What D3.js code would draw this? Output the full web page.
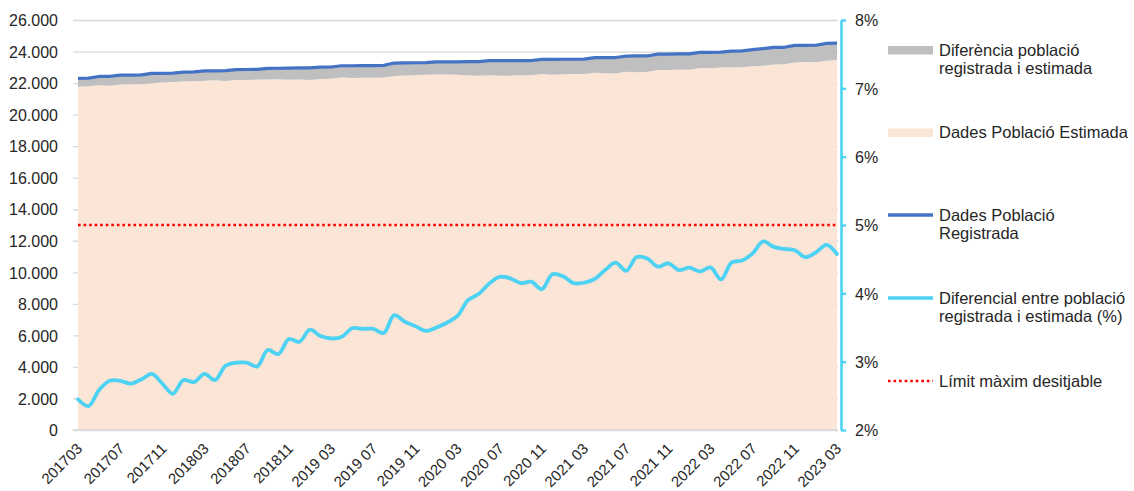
<!DOCTYPE html>
<html>
    <head>
        <meta charset="utf-8">
        <script src="https://d3js.org/d3.v7.min.js"></script>
        <style>
            body { margin: 0; background: #fff; }
            text { font-family: "Liberation Sans", Arial, sans-serif; fill: #262626; }
        </style>
    </head>
    <body>
        <div id="my_dataviz"></div>
        <script>
            // months (categories)
            const months = [
                "201703","201704","201705","201706","201707","201708","201709","201710","201711","201712",
                "201801","201802","201803","201804","201805","201806","201807","201808","201809","201810","201811","201812",
                "2019 01","2019 02","2019 03","2019 04","2019 05","2019 06","2019 07","2019 08","2019 09","2019 10","2019 11","2019 12",
                "2020 01","2020 02","2020 03","2020 04","2020 05","2020 06","2020 07","2020 08","2020 09","2020 10","2020 11","2020 12",
                "2021 01","2021 02","2021 03","2021 04","2021 05","2021 06","2021 07","2021 08","2021 09","2021 10","2021 11","2021 12",
                "2022 01","2022 02","2022 03","2022 04","2022 05","2022 06","2022 07","2022 08","2022 09","2022 10","2022 11","2022 12",
                "2023 01","2023 02","2023 03"
            ];
            // labels shown on the x axis
            const tickLabels = ["201703","201707","201711","201803","201807","201811","2019 03","2019 07","2019 11",
                "2020 03","2020 07","2020 11","2021 03","2021 07","2021 11","2022 03","2022 07","2022 11","2023 03"];

            // Dades Població Registrada
            const registrada = [
                22300,22310,22420,22430,22500,22510,22520,22610,22620,22630,22700,22710,22770,22780,22790,22850,22860,22870,
                22930,22940,22950,22960,22970,23010,23020,23100,23100,23110,23110,23120,23270,23280,23290,23300,23340,23350,
                23350,23360,23360,23420,23420,23420,23430,23430,23500,23500,23510,23510,23520,23610,23610,23620,23710,23720,
                23720,23840,23840,23850,23850,23950,23950,23960,24030,24040,24120,24190,24260,24270,24390,24390,24400,24520,24530
            ];
            // Dades Població Estimada
            const estimada = [
                21767,21798,21855,21836,21904,21922,21920,21990,22030,22072,22097,22113,22146,22175,22139,22188,22197,22219,
                22225,22248,22210,22229,22200,22259,22276,22349,22321,22333,22333,22355,22444,22474,22498,22523,22551,22545,
                22523,22483,22464,22489,22467,22472,22496,22492,22583,22535,22552,22573,22582,22656,22628,22614,22726,22692,
                22696,22837,22826,22858,22850,22958,22945,22993,23006,23009,23063,23091,23175,23192,23311,23333,23327,23417,23457
            ];
            // Diferencial entre població registrada i estimada (%)
            const diferencial = [
                2.45,2.35,2.585,2.72,2.72,2.68,2.74,2.82,2.68,2.53,2.73,2.70,2.82,2.73,2.94,2.985,2.985,2.93,
                3.17,3.11,3.33,3.29,3.47,3.375,3.34,3.36,3.49,3.48,3.48,3.42,3.68,3.585,3.52,3.45,3.50,3.57,
                3.67,3.90,3.99,4.14,4.24,4.22,4.15,4.17,4.06,4.28,4.25,4.15,4.155,4.21,4.34,4.45,4.33,4.53,
                4.51,4.39,4.44,4.34,4.375,4.32,4.38,4.205,4.45,4.48,4.585,4.76,4.68,4.65,4.63,4.53,4.60,4.71,4.575
            ];
            // Límit màxim desitjable (%)
            const limit = 5;

            const leftTicks = [0,2000,4000,6000,8000,10000,12000,14000,16000,18000,20000,22000,24000,26000];
            const rightTicks = [2,3,4,5,6,7,8];

            const colors = {
                estimada: "#FBE5D6",
                diferencia: "#BFBFBF",
                registrada: "#4472C4",
                diferencial: "#4DD2F4",
                limit: "#FF0000",
                grid: "#D9D9D9"
            };

            const width = 1134, height = 491;
            const plotLeft = 73, plotRight = 838, plotTop = 20, plotBottom = 430;

            const svg = d3.select("#my_dataviz")
                .append("svg")
                    .attr("width", width)
                    .attr("height", height);

            const data = months.map((m, i) => ({
                month: m, reg: registrada[i], est: estimada[i], pct: diferencial[i]
            }));

            const x = d3.scalePoint()
                .domain(months)
                .range([78, 837]);
            const yL = d3.scaleLinear().domain([0, 26000]).range([plotBottom, plotTop]);
            const yR = d3.scaleLinear().domain([2, 8]).range([plotBottom, plotTop]);

            const fmt = d3.formatLocale({decimal: ",", thousands: ".", grouping: [3], currency: ["", "€"]}).format(",.0f");

            // gridlines
            svg.append("g")
                .attr("transform", `translate(${plotLeft},0)`)
                .call(d3.axisLeft(yL).tickValues(leftTicks).tickSize(-(plotRight - plotLeft)).tickFormat(""))
                .call(g => g.select(".domain").remove())
                .call(g => g.selectAll("line").attr("stroke", colors.grid).attr("stroke-width", 1.3));

            // stacked areas
            svg.append("path")
                .datum(data)
                .attr("fill", colors.estimada)
                .attr("d", d3.area().x(d => x(d.month)).y0(yL(0)).y1(d => yL(d.est)));
            svg.append("path")
                .datum(data)
                .attr("fill", colors.diferencia)
                .attr("d", d3.area().x(d => x(d.month)).y0(d => yL(d.est)).y1(d => yL(d.reg)));

            // x baseline
            svg.append("line")
                .attr("x1", plotLeft).attr("x2", plotRight)
                .attr("y1", yL(0)).attr("y2", yL(0))
                .attr("stroke", colors.grid).attr("stroke-width", 1.5);

            // registered line
            svg.append("path")
                .datum(data)
                .attr("fill", "none")
                .attr("stroke", colors.registrada)
                .attr("stroke-width", 3.2)
                .attr("stroke-linejoin", "round")
                .attr("d", d3.line().x(d => x(d.month)).y(d => yL(d.reg)));

            // limit line (secondary axis)
            svg.append("line")
                .attr("x1", x(months[0])).attr("x2", x(months[months.length - 1]))
                .attr("y1", yR(limit)).attr("y2", yR(limit))
                .attr("stroke", colors.limit)
                .attr("stroke-width", 2.6)
                .attr("stroke-dasharray", "2.6,2.95");

            // percentage line (secondary axis)
            svg.append("path")
                .datum(data)
                .attr("fill", "none")
                .attr("stroke", colors.diferencial)
                .attr("stroke-width", 3.8)
                .attr("stroke-linejoin", "round")
                .attr("stroke-linecap", "round")
                .attr("d", d3.line().curve(d3.curveCatmullRom.alpha(0.5)).x(d => x(d.month)).y(d => yR(d.pct)));

            // left axis
            svg.append("g")
                .attr("transform", `translate(${plotLeft},0)`)
                .call(d3.axisLeft(yL).tickValues(leftTicks).tickSize(0).tickPadding(15).tickFormat(fmt))
                .call(g => g.select(".domain").remove())
                .call(g => g.selectAll("text").style("font-size", "16px").attr("dy", "0.36em"));

            // right axis
            svg.append("g")
                .attr("transform", "translate(841,0)")
                .call(d3.axisRight(yR).tickValues(rightTicks).tickSize(5).tickSizeOuter(0).tickPadding(9).tickFormat(d => d + "%"))
                .call(g => g.select(".domain").attr("stroke", colors.diferencial).attr("stroke-width", 2.6))
                .call(g => g.selectAll("line").attr("stroke", colors.diferencial).attr("stroke-width", 2.4))
                .call(g => g.selectAll("text").style("font-size", "16px").attr("dy", "0.36em"));

            // x axis labels
            svg.append("g")
                .attr("transform", `translate(0,${plotBottom})`)
                .call(d3.axisBottom(x).tickValues(tickLabels).tickSize(0))
                .call(g => g.select(".domain").remove())
                .call(g => g.selectAll("text")
                    .style("font-size", "15px")
                    .attr("text-anchor", "end")
                    .attr("x", 0).attr("y", 0).attr("dy", "0.35em")
                    .attr("transform", "translate(1,16) rotate(-45)"));

            // legend
            const legend = [
                {type: "rect", color: colors.diferencia, y: 50, lines: ["Diferència població", "registrada i estimada"]},
                {type: "rect", color: colors.estimada, y: 132.5, lines: ["Dades Població Estimada"]},
                {type: "line", color: colors.registrada, y: 215, lines: ["Dades Població", "Registrada"]},
                {type: "line", color: colors.diferencial, y: 298, lines: ["Diferencial entre població", "registrada i estimada (%)"]},
                {type: "dot", color: colors.limit, y: 381, lines: ["Límit màxim desitjable"]}
            ];
            const lg = svg.append("g").selectAll("g")
                .data(legend)
                .join("g")
                .attr("transform", d => `translate(888,${d.y})`);
            lg.filter(d => d.type === "rect").append("rect")
                .attr("x", 0).attr("y", -4).attr("width", 45).attr("height", 8.5)
                .attr("fill", d => d.color);
            lg.filter(d => d.type !== "rect").append("line")
                .attr("x1", 0).attr("x2", 45).attr("y1", 0).attr("y2", 0)
                .attr("stroke", d => d.color)
                .attr("stroke-width", d => d.type === "dot" ? 2.6 : 3.5)
                .attr("stroke-dasharray", d => d.type === "dot" ? "2.6,2.95" : null);
            lg.append("text")
                .attr("x", 51)
                .style("font-size", "16.5px")
                .selectAll("tspan")
                .data(d => d.lines)
                .join("tspan")
                    .attr("x", 51)
                    .attr("y", (d, i) => i * 18.5)
                    .attr("dy", "0.36em")
                    .text(d => d);
        </script>
    </body>
</html>
